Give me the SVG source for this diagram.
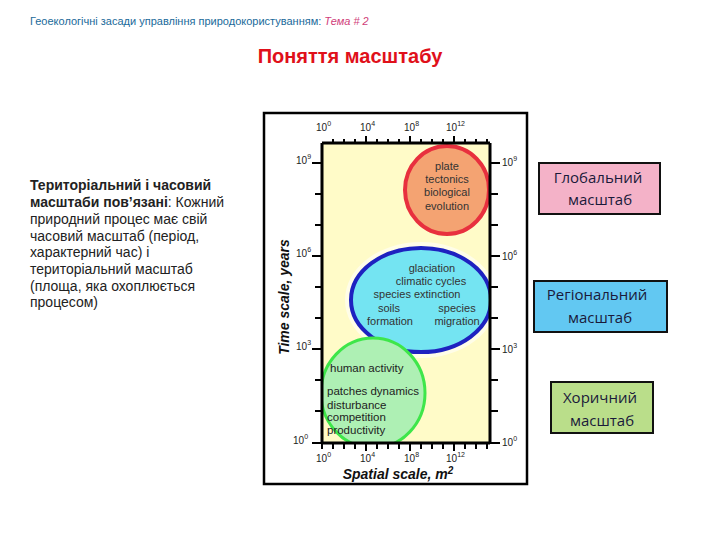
<svg xmlns="http://www.w3.org/2000/svg" width="720" height="540" viewBox="0 0 720 540">
<style>
.hdr{font-family:"Liberation Sans",Arial,sans-serif;font-size:11px;fill:#1a6a9a}
.ttl{font-family:"Liberation Sans",Arial,sans-serif;font-size:20px;font-weight:bold;fill:#e0101a}
.body{font-family:"Liberation Sans",Arial,sans-serif;font-size:14px;fill:#222}
.tick{stroke:#000;stroke-width:2;fill:none}
.axis{stroke:#000;stroke-width:3;fill:none}
.lbl{font-family:"Liberation Sans",Arial,sans-serif;font-size:10px;fill:#222}
.sup{font-size:7px}
.ctx{font-family:"Liberation Sans",Arial,sans-serif;font-size:11px;fill:#333;text-anchor:middle}
.gtx{font-family:"Liberation Sans",Arial,sans-serif;font-size:11.5px;fill:#222}
.axt{font-family:"Liberation Sans",Arial,sans-serif;font-size:14px;font-weight:bold;font-style:italic;fill:#111}
.box{stroke:#111;stroke-width:2}
.btx{font-family:"Open Sans","Liberation Sans",sans-serif;font-size:15px;fill:#1a1a3a;text-anchor:middle}
</style>
<rect width="720" height="540" fill="#fff"/>
<g id="header">
<text x="30" y="25" class="hdr">Геоекологічні засади управління природокористуванням: <tspan style="font-style:italic;fill:#d0407a">Тема # 2</tspan></text>
</g>
<g id="title">
<text x="350" y="63" class="ttl" text-anchor="middle">Поняття масштабу</text>
</g>
<g id="description">
<text class="body">
<tspan x="30" y="190" font-weight="bold">Територіальний і часовий</tspan>
<tspan x="30" y="207"><tspan font-weight="bold">масштаби пов’язані</tspan>: Кожний</tspan>
<tspan x="30" y="224">природний процес має свій</tspan>
<tspan x="30" y="241">часовий масштаб (період,</tspan>
<tspan x="30" y="257">характерний час) і</tspan>
<tspan x="30" y="274">територіальний масштаб</tspan>
<tspan x="30" y="291">(площа, яка охоплюється</tspan>
<tspan x="30" y="307">процесом)</tspan>
</text>
</g>
<g id="chart">
<rect x="264" y="113" width="263" height="371" fill="#fff" stroke="#000" stroke-width="2.5"/>
<rect x="322" y="143" width="168" height="300" fill="#fffbc8"/>
<defs>
<clipPath id="plot"><rect x="322" y="143" width="168" height="300"/></clipPath>
</defs>
<g clip-path="url(#plot)">
<ellipse id="halo1" cx="421" cy="300" rx="76" ry="58" fill="#fffde8"/>
<ellipse id="global-circle" cx="447" cy="190" rx="42" ry="44" fill="#f4a372" stroke="#e8303e" stroke-width="4"/>
<ellipse id="regional-ellipse" cx="421" cy="300" rx="70" ry="52" fill="#74e4f2" stroke="#1e22c0" stroke-width="4"/>
<ellipse id="local-ellipse" cx="373" cy="393" rx="52" ry="55" fill="#aef0b4" stroke="#3ee64a" stroke-width="3"/>
</g>
<g id="axes">
<path class="axis" d="M322 143 H490 M322 443 H490 M322 143 V443 M490 143 V443"/>
<path class="tick" d="M333 143 v-4 M344 143 v-4 M355 143 v-4 M366 143 v-7 M377 143 v-4 M388 143 v-4 M399 143 v-4 M410 143 v-7 M421 143 v-4 M432 143 v-4 M443 143 v-4 M454 143 v-7 M465 143 v-4 M476 143 v-4 M487 143 v-4"/>
<path class="tick" d="M322 443 v6 M333 443 v6 M344 443 v6 M355 443 v6 M366 443 v8 M377 443 v6 M388 443 v6 M399 443 v6 M410 443 v8 M421 443 v6 M432 443 v6 M443 443 v6 M454 443 v8 M465 443 v6 M476 443 v6 M487 443 v6"/>
<path class="tick" d="M322 163 h-10 M322 194 h-7 M322 225 h-7 M322 256 h-10 M322 287 h-7 M322 318 h-7 M322 349 h-10 M322 380 h-7 M322 411 h-7 M322 443 h-10"/>
<path class="tick" d="M490 163 h10 M490 194 h8 M490 225 h8 M490 256 h10 M490 287 h8 M490 318 h8 M490 349 h10 M490 380 h8 M490 411 h8 M490 443 h10"/>
</g>
<g id="tick-labels">
<text class="lbl" x="316" y="131">10<tspan class="sup" dy="-5">0</tspan></text>
<text class="lbl" x="360" y="131">10<tspan class="sup" dy="-5">4</tspan></text>
<text class="lbl" x="404" y="131">10<tspan class="sup" dy="-5">8</tspan></text>
<text class="lbl" x="446" y="131">10<tspan class="sup" dy="-5">12</tspan></text>
<text class="lbl" x="316" y="462">10<tspan class="sup" dy="-5">0</tspan></text>
<text class="lbl" x="360" y="462">10<tspan class="sup" dy="-5">4</tspan></text>
<text class="lbl" x="404" y="462">10<tspan class="sup" dy="-5">8</tspan></text>
<text class="lbl" x="446" y="462">10<tspan class="sup" dy="-5">12</tspan></text>
<text class="lbl" x="296" y="164">10<tspan class="sup" dy="-5">9</tspan></text>
<text class="lbl" x="296" y="257">10<tspan class="sup" dy="-5">6</tspan></text>
<text class="lbl" x="296" y="350">10<tspan class="sup" dy="-5">3</tspan></text>
<text class="lbl" x="293" y="444">10<tspan class="sup" dy="-5">0</tspan></text>
<text class="lbl" x="502" y="166">10<tspan class="sup" dy="-5">9</tspan></text>
<text class="lbl" x="502" y="260">10<tspan class="sup" dy="-5">6</tspan></text>
<text class="lbl" x="502" y="353">10<tspan class="sup" dy="-5">3</tspan></text>
<text class="lbl" x="502" y="446">10<tspan class="sup" dy="-5">0</tspan></text>
</g>
<g id="circle-texts">
<text class="ctx" x="447" y="170">plate</text>
<text class="ctx" x="447" y="183">tectonics</text>
<text class="ctx" x="447" y="196">biological</text>
<text class="ctx" x="447" y="210">evolution</text>
<text class="ctx" x="432" y="272">glaciation</text>
<text class="ctx" x="431" y="285">climatic cycles</text>
<text class="ctx" x="417" y="298">species extinction</text>
<text class="ctx" x="389" y="312">soils</text>
<text class="ctx" x="457" y="312">species</text>
<text class="ctx" x="390" y="325">formation</text>
<text class="ctx" x="457" y="325">migration</text>
<text class="gtx" x="330" y="372">human activity</text>
<text class="gtx" x="327" y="395">patches dynamics</text>
<text class="gtx" x="327" y="409">disturbance</text>
<text class="gtx" x="327" y="421">competition</text>
<text class="gtx" x="327" y="434">productivity</text>
</g>
<text class="axt" transform="translate(289 297) rotate(-90)" text-anchor="middle">Time scale, years</text>
<text class="axt" x="398" y="479" text-anchor="middle">Spatial scale, m<tspan font-size="10" dy="-5">2</tspan></text>
</g>
<g id="global-box">
<rect class="box" x="539" y="163" width="121" height="51" fill="#f4b2c8"/>
<text class="btx" x="598" y="183">Глобальний</text>
<text class="btx" x="600" y="205">масштаб</text>
</g>
<g id="regional-box">
<rect class="box" x="534" y="281" width="133" height="51" fill="#62c8f2"/>
<text class="btx" x="597" y="300">Регіональний</text>
<text class="btx" x="600" y="323">масштаб</text>
</g>
<g id="choric-box">
<rect class="box" x="551" y="382" width="102" height="51" fill="#bade8a"/>
<text class="btx" x="600" y="403">Хоричний</text>
<text class="btx" x="602" y="426">масштаб</text>
</g>
</svg>
